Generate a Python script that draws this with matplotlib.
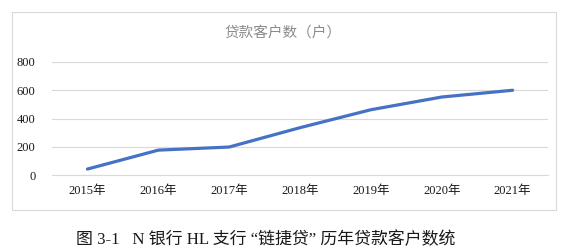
import matplotlib
matplotlib.use("Agg")
import matplotlib.pyplot as plt
from matplotlib.patches import Rectangle

years = ["2015年", "2016年", "2017年", "2018年", "2019年", "2020年", "2021年"]
customers = [42, 176, 198, 335, 462, 552, 600]
yticks = [0, 200, 400, 600, 800]

plt.rcParams["font.family"] = ["Liberation Serif", "Noto Sans CJK SC"]

W, H = 569, 252
fig = plt.figure(figsize=(W / 100, H / 100), dpi=100)

# chart frame
fig.patches.append(Rectangle((12 / W, 1 - 210 / H), 544 / W, 198 / H,
                             transform=fig.transFigure, fill=False,
                             edgecolor="#d9d9d9", linewidth=0.8))

ax = fig.add_axes([52 / W, 1 - 175 / H, 496 / W, 113 / H])
x = range(len(years))
ax.plot(x, customers, color="#4472C4", linewidth=2.3, solid_capstyle="round")
ax.set_xlim(-0.5, len(years) - 0.5)
ax.set_ylim(0, 800)
ax.set_yticks(yticks)
ax.set_xticks(list(x))
ax.set_xticklabels(years)
ax.grid(axis="y", color="#d9d9d9", linewidth=0.8)
ax.set_axisbelow(True)
for s in ["top", "right", "left"]:
    ax.spines[s].set_visible(False)
ax.spines["bottom"].set_color("#d9d9d9")
ax.tick_params(length=0, labelsize=9, colors="#1a1a1a", pad=7)
ax.tick_params(axis="y", pad=12)

fig.text(283 / W, 1 - 33 / H, "贷款客户数（户）", ha="center", va="center",
         fontsize=10.5, color="#8c8c8c")
fig.text(266 / W, 1 - 240 / H, "图 3-1   N 银行 HL 支行 “链捷贷” 历年贷款客户数统",
         ha="center", va="center", fontsize=12.2, color="#1a1a1a")

fig.savefig("out.png", dpi=100)
